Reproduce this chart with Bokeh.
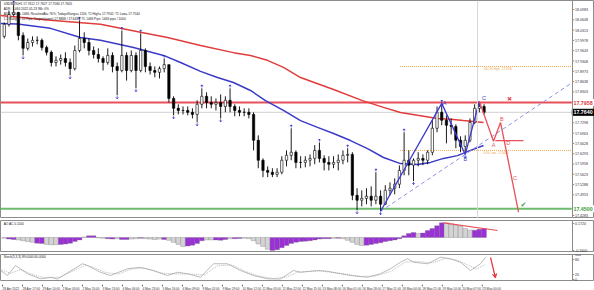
from bokeh.plotting import figure
from bokeh.layouts import column
from bokeh.models import Range1d, Span, Arrow, VeeHead
from bokeh.core.properties import value
from bokeh.embed import file_html
from bokeh.resources import INLINE

FONT = "Liberation Sans"

# ---------------- data (USDMXN, each candle = 4 H1 bars) ----------------
open_first = 18.011
highs = [18.056, 18.095, 18.115, 18.089, 18.024, 18.004, 18.011, 18.011, 18.004, 17.981,
         17.965, 17.946, 17.952, 17.959, 17.939, 17.981, 18.063, 18.024, 18.004, 17.978,
         17.972, 17.946, 17.972, 17.959, 17.926, 18.030, 17.959, 17.965, 17.959, 18.021,
         17.972, 17.926, 17.913, 17.913, 17.939, 17.919, 17.816, 17.790, 17.783, 17.783,
         17.777, 17.803, 17.842, 17.829, 17.816, 17.809, 17.822, 17.816, 17.842, 17.790,
         17.783, 17.777, 17.777, 17.764, 17.689, 17.614, 17.588, 17.582, 17.582, 17.621,
         17.640, 17.712, 17.640, 17.621, 17.621, 17.627, 17.657, 17.666, 17.624, 17.621,
         17.621, 17.627, 17.640, 17.647, 17.634, 17.517, 17.510, 17.517, 17.523, 17.569,
         17.510, 17.527, 17.536, 17.549, 17.591, 17.699, 17.640, 17.614, 17.634, 17.627,
         17.640, 17.738, 17.783, 17.793, 17.754, 17.744, 17.725, 17.686, 17.689, 17.744,
         17.790, 17.800, 17.790]
lows = [18.004, 18.043, 18.076, 17.998, 17.949, 17.965, 17.978, 17.985, 17.965, 17.949,
        17.913, 17.913, 17.919, 17.913, 17.884, 17.900, 17.959, 17.972, 17.949, 17.939,
        17.926, 17.900, 17.919, 17.894, 17.819, 17.894, 17.867, 17.894, 17.842, 17.894,
        17.894, 17.887, 17.878, 17.874, 17.894, 17.796, 17.754, 17.757, 17.757, 17.754,
        17.744, 17.731, 17.777, 17.777, 17.777, 17.770, 17.744, 17.764, 17.764, 17.751,
        17.751, 17.751, 17.744, 17.640, 17.582, 17.553, 17.553, 17.553, 17.553, 17.562,
        17.588, 17.608, 17.582, 17.582, 17.585, 17.588, 17.595, 17.601, 17.575, 17.575,
        17.582, 17.575, 17.595, 17.601, 17.478, 17.445, 17.458, 17.465, 17.458, 17.465,
        17.442, 17.462, 17.494, 17.497, 17.517, 17.559, 17.559, 17.540, 17.588, 17.592,
        17.595, 17.624, 17.699, 17.722, 17.663, 17.692, 17.647, 17.634, 17.627, 17.666,
        17.725, 17.764, 17.757]
closes = [18.050, 18.082, 18.089, 18.014, 17.972, 17.991, 17.998, 17.998, 17.975, 17.959,
          17.926, 17.933, 17.939, 17.926, 17.906, 17.965, 18.004, 17.991, 17.965, 17.952,
          17.939, 17.926, 17.949, 17.913, 17.900, 17.949, 17.900, 17.949, 17.900, 17.965,
          17.913, 17.900, 17.894, 17.906, 17.919, 17.809, 17.777, 17.770, 17.770, 17.764,
          17.757, 17.790, 17.816, 17.796, 17.790, 17.796, 17.783, 17.803, 17.783, 17.770,
          17.764, 17.764, 17.757, 17.673, 17.608, 17.575, 17.569, 17.562, 17.569, 17.608,
          17.624, 17.634, 17.601, 17.601, 17.608, 17.614, 17.640, 17.614, 17.601, 17.595,
          17.601, 17.608, 17.624, 17.627, 17.494, 17.478, 17.484, 17.491, 17.478, 17.491,
          17.465, 17.510, 17.517, 17.530, 17.575, 17.608, 17.592, 17.608, 17.614, 17.608,
          17.634, 17.712, 17.764, 17.738, 17.722, 17.718, 17.673, 17.653, 17.673, 17.731,
          17.777, 17.783, 17.764]

# moving averages (x in H1-bar index)
ma_fast_x = [-1.7, 12.8, 40.8, 66.3, 83.3, 111.4, 136.9, 151.4, 168.4, 182.8, 196.4, 210.9,
             223.6, 238.9, 253.4, 267.9, 281.5, 295.9, 310.4, 324.0, 338.4, 352.9, 363.9,
             375.0, 386.9, 398.0, 409.0]
ma_fast = [18.053, 18.051, 18.037, 18.007, 17.998, 17.975, 17.949, 17.926, 17.897, 17.877,
           17.861, 17.835, 17.802, 17.770, 17.737, 17.715, 17.695, 17.672, 17.646, 17.617,
           17.597, 17.594, 17.601, 17.614, 17.623, 17.640, 17.656]
ma_slow_x = [-1.7, 40.8, 83.3, 117.3, 140.3, 168.4, 196.4, 210.9, 225.3, 238.9, 253.4, 281.5,
             306.1, 324.0, 338.4, 352.9, 369.9, 381.0, 392.0, 409.0]
ma_slow = [18.079, 18.063, 18.050, 18.024, 18.007, 17.981, 17.958, 17.949, 17.933, 17.910,
           17.877, 17.838, 17.802, 17.780, 17.763, 17.754, 17.744, 17.741, 17.737, 17.731]

resistance = 17.7958
support = 17.4500
fibo_high = 17.913
fibo_low = 17.640
marker_bar = 403.9

wave_bars = [80, 93, 98, 101]
proj_x = [417.5, 423.5, 438.8]
proj_y = [17.670, 17.731, 17.439]
proj_level = 17.672

ao = [-0.010, -0.020, -0.025, -0.030, -0.040, -0.050, -0.060, -0.070, -0.075, -0.085,
      -0.090, -0.090, -0.085, -0.080, -0.070, -0.050, -0.030, 0.005, 0.020, 0.020,
      -0.005, -0.010, -0.015, -0.020, -0.015, -0.025, -0.025, -0.020, -0.015, -0.010,
      -0.015, -0.020, -0.025, -0.020, -0.025, -0.035, -0.060, -0.085, -0.110, -0.105,
      -0.095, -0.075, -0.040, -0.030, -0.030, -0.030, -0.035, -0.025, -0.015, -0.015,
      -0.012, -0.010, -0.015, -0.040, -0.080, -0.110, -0.145, -0.160, -0.150, -0.125,
      -0.100, -0.075, -0.060, -0.050, -0.045, -0.040, -0.030, -0.020, -0.015, -0.015,
      -0.012, -0.010, -0.015, -0.035, -0.060, -0.085, -0.100, -0.095, -0.085, -0.075,
      -0.065, -0.050, -0.040, -0.030, -0.015, 0.020, 0.050, 0.060, 0.050, 0.055,
      0.085, 0.110, 0.145, 0.180, 0.180, 0.170, 0.155, 0.135, 0.110, 0.090,
      0.090, 0.100, 0.110]
ao_flags = ("gppggggppg" "ggpppppgpp" "ggppgppggp" "ggggpggggp" "pppggpppgp"
            "pggggggppp" "pppppppppp" "gpgggggppp" "ppppppppgp" "ppppgggggg" "ppp")
ao_div_x = [375.0, 421.0]
ao_div_y = [0.180, 0.086]

stk_x = [-1.7, 4.3, 11.1, 21.3, 32.3, 40.8, 46.8, 68.0, 72.3, 83.3,
         91.8, 106.3, 117.3, 128.4, 140.3, 148.8, 157.3, 168.4, 179.4, 191.3,
         202.4, 213.4, 225.3, 236.4, 247.4, 253.4, 267.9, 276.4, 287.4, 295.9,
         310.4, 321.4, 329.9, 338.4, 344.4, 349.5, 361.4, 372.4, 381.0, 389.5,
         398.0, 406.5, 410.7]
stk = [36, 16, 56, 23, 3, 9, 2, 63, 56, 29,
       16, 43, 49, 36, 16, 29, 23, 9, 63, 63,
       36, 16, 3, 2, 36, 29, 36, 33, 23, 16,
       9, 23, 43, 69, 83, 69, 63, 89, 83, 69,
       36, 63, 89]
std_x = [-1.7, 6.8, 15.3, 25.5, 36.6, 49.3, 70.6, 76.5, 87.6, 98.6, 110.5, 121.6,
         134.4, 147.1, 159.9, 171.8, 182.8, 195.6, 206.6, 217.7, 229.6, 241.5, 251.7, 270.4,
         291.7, 304.4, 317.2, 330.0, 342.7, 353.7, 365.6, 376.7, 386.1, 394.6, 403.1, 410.7]
std = [40, 25, 40, 20, 6, 10, 58, 50, 28, 22, 43, 44,
       26, 22, 22, 18, 55, 58, 32, 14, 4, 10, 30, 34,
       22, 12, 14, 32, 70, 72, 66, 84, 78, 60, 42, 60]

time_labels = ["28 Apr 2022", "28 Apr 17:00", "29 Apr 10:00", "2 May 03:00", "2 May 20:00",
               "3 May 13:00", "4 May 06:00", "4 May 23:00", "5 May 16:00", "6 May 09:00",
               "9 May 02:00", "9 May 19:00", "10 May 12:00", "11 May 05:00", "11 May 22:00",
               "12 May 15:00", "13 May 08:00", "16 May 01:00", "16 May 18:00", "17 May 11:00",
               "18 May 04:00", "18 May 21:00", "19 May 14:00", "20 May 07:00", "23 May 00:00"]
label_step = 17

price_ticks = [18.0983, 18.0648, 18.0313, 17.9978, 17.9643, 17.9308, 17.8973, 17.8638,
               17.8303, 17.7298, 17.6963, 17.6628, 17.6293, 17.5958, 17.5623, 17.5288,
               17.4953, 17.4283]
ao_ticks = [0.172, -0.160]
stoch_ticks = [100, 80, 20, 0]

info_lines = ["USDMXN,H1  17.7612 17.7627 17.7580 17.7605",
              "ADR: 1,466  2022.05.23  Wk: 0%",
              "ADR Value= 1466; ReachedAt= 76%; TodaysRange= 1116; T1 High= 17.7942; T1 Low= 17.7544",
              "1.1 Ranges: 11 Pips; Targets(zone) 17.8868 / 17.6488; TL 1466 Pips; 1466 pips / 1000"]

# ---------------- layout helpers ----------------
W = 594
XR = Range1d(-1.7, 503.4)   # H1-bar index across the full window width
AX = 484.7                  # bar index where the price scale begins
GRID = "#8c8c8c"


def panel(h, yr, top):
    p = figure(width=W, height=h, x_range=XR, y_range=yr, output_backend="svg",
               toolbar_location=None, x_axis_location=None, y_axis_location=None,
               min_border_left=0, min_border_right=0, min_border_top=top, min_border_bottom=0)
    p.xgrid.visible = False
    p.ygrid.visible = False
    p.outline_line_color = GRID
    p.background_fill_color = "white"
    p.border_fill_color = "white"
    p.add_layout(Span(location=AX, dimension="height", line_color=GRID, line_width=1))
    return p


def scale(p, ticks, labels, size="3.6px"):
    p.segment(x0=[AX] * len(ticks), y0=ticks, x1=[AX + 1.5] * len(ticks), y1=ticks,
              line_color=GRID, line_width=1)
    p.text(x=[AX + 2.2] * len(ticks), y=ticks, text=labels, text_font=value(FONT),
           text_font_size=size, text_color="#333333", text_baseline="middle")


def tag(p, y, txt, fg, bg, border=None):
    p.rect(x=[AX + 9.2], y=[y], width=22, height=6, width_units="screen", height_units="screen",
           fill_color=bg, line_color=border if border else bg)
    p.text(x=[AX + 0.8], y=[y], text=[txt], text_font=value(FONT), text_font_size="5.3px",
           text_font_style="bold", text_color=fg, text_baseline="middle")

# ---------------- main price panel ----------------
n = len(closes)
xs = [4 * i + 1.5 for i in range(n)]
opens = [open_first] + closes[:-1]
tops = [max(o, c) for o, c in zip(opens, closes)]
bots = [min(o, c) for o, c in zip(opens, closes)]
fills = ["white" if c >= o else "black" for o, c in zip(opens, closes)]

main = panel(218, Range1d(17.4185, 18.1276), 0)
scale(main, price_ticks, ["%.4f" % t for t in price_ticks])

main.segment(x0=-1.7, y0=closes[-1], x1=AX, y1=closes[-1], line_color="#cfcfcf", line_width=1)
main.add_layout(Span(location=marker_bar, dimension="height", line_color="#d8d8d8", line_width=1))
main.segment(x0=338, y0=fibo_high, x1=AX, y1=fibo_high, line_color="#f4a84a",
             line_width=1, line_dash="1 1")
main.segment(x0=338, y0=fibo_low, x1=AX, y1=fibo_low, line_color="#f4a84a",
             line_width=1, line_dash="1 1")
main.text(x=[409, 409], y=[fibo_high - 0.006, fibo_low - 0.006],
          text=["100.0% High - 17.9130", "0.0% Low - 17.6400"],
          text_font=value(FONT), text_font_size="2.8px", text_color="#f0a040",
          text_baseline="middle")
main.segment(x0=-1.7, y0=resistance, x1=AX + 1, y1=resistance, line_color="#e8505a", line_width=2)
main.segment(x0=-1.7, y0=support, x1=AX + 1, y1=support, line_color="#6dbb6d", line_width=2)

main.line(ma_slow_x, ma_slow, line_color="#e03c3c", line_width=1.5)
main.line(ma_fast_x, ma_fast, line_color="#3a3ac8", line_width=1.5)

# trend line through the wave lows
x0t, y0t = xs[wave_bars[0]], lows[wave_bars[0]]
x1t, y1t = xs[wave_bars[2]], lows[wave_bars[2]]
slope = (y1t - y0t) / (x1t - x0t)
main.line([x0t, AX], [y0t, y0t + slope * (AX - x0t)], line_color="#8f8fe6",
          line_width=1, line_dash="4 3")

main.segment(x0=xs, y0=highs, x1=xs, y1=lows, line_color="black", line_width=0.9)
main.vbar(x=xs, width=2.0, top=tops, bottom=bots, fill_color=fills, line_color="black",
          line_width=0.6)

# Bill Williams fractals, drawn as small arrows
up_f = [i for i in range(2, n - 2) if highs[i] > max(highs[i - 2], highs[i - 1], highs[i + 1], highs[i + 2])]
dn_f = [i for i in range(2, n - 2) if lows[i] < min(lows[i - 2], lows[i - 1], lows[i + 1], lows[i + 2])]
fx, fy = [], []
for i in up_f:
    b = highs[i] + 0.003
    fx += [[xs[i] - 1.0, xs[i], xs[i] + 1.0], [xs[i], xs[i]]]
    fy += [[b + 0.004, b + 0.008, b + 0.004], [b, b + 0.008]]
for i in dn_f:
    b = lows[i] - 0.003
    fx += [[xs[i] - 1.0, xs[i], xs[i] + 1.0], [xs[i], xs[i]]]
    fy += [[b - 0.004, b - 0.008, b - 0.004], [b, b - 0.008]]
main.multi_line(fx, fy, line_color="#2828d0", line_width=0.8)

# blue wave
wx = [xs[b] for b in wave_bars]
wy = [lows[wave_bars[0]], highs[wave_bars[1]], lows[wave_bars[2]], highs[wave_bars[3]]]
main.line(wx, wy, line_color="#3a3ad0", line_width=1.3)
main.text(x=[wx[1] + 2.5, wx[2], wx[3] + 4], y=[wy[1] + 0.001, wy[2] - 0.014, wy[3] + 0.009],
          text=["A", "B", "C"], text_font=value(FONT), text_font_size="5.5px",
          text_color="#3a3ad0", text_align="center", text_baseline="middle")

# red projection
px_ = [wx[3]] + proj_x
py_ = [wy[3]] + proj_y
main.line(px_, py_, line_color="#e8505a", line_width=1.3)
main.segment(x0=proj_x[0] + 1.5, y0=proj_level, x1=443, y1=proj_level, line_color="#e8505a",
             line_width=1.3)
main.text(x=[proj_x[0], proj_x[1] + 1, proj_x[2] - 3, 430, 431],
          y=[proj_y[0] - 0.012, proj_y[1] + 0.012, 17.55, proj_level - 0.009, 17.806],
          text=["A", "B", "C", "D", "\u2716"], text_font=value(FONT), text_font_size="5.5px",
          text_color="#e8505a", text_align="center", text_baseline="middle")
main.text(x=[443], y=[support + 0.011], text=["\u2714"], text_font=value("DejaVu Sans"),
          text_font_size="7px", text_color="#40a040", text_align="center", text_baseline="middle")

# info text
main.text(x=[1] * 4, y=[18.1165, 18.1005, 18.0845, 18.0685], text=info_lines,
          text_font=value(FONT), text_font_size="3.2px", text_color="#202020",
          text_baseline="middle")

tag(main, resistance, "17.7958", "#e03040", "white")
tag(main, support, "17.4500", "#3c9a3c", "white")
tag(main, closes[-1], "%.4f" % closes[-1], "white", "black")

# ---------------- AO panel ----------------
aop = panel(34, Range1d(-0.185, 0.209), 2)
scale(aop, ao_ticks, ["%.4f" % t for t in ao_ticks])
ao_colors = ["#9b30d9" if f == "p" else "#d4d4d4" for f in ao_flags]
aop.vbar(x=xs, width=4, top=ao, bottom=0, fill_color=ao_colors, line_color="#6a6a6a",
         line_width=0.3)
aop.line(ao_div_x, ao_div_y, line_color="#e8505a", line_width=1.2)
aop.text(x=[1], y=[0.165], text=["AO AC  0.1100"], text_font=value(FONT),
         text_font_size="3.2px", text_color="#202020", text_baseline="middle")

# ---------------- Stochastic panel ----------------
stp = panel(29, Range1d(-8, 100), 2)
scale(stp, stoch_ticks, [str(t) for t in stoch_ticks])
stp.line(stk_x, stk, line_color="#a8a8a8", line_width=0.8)
stp.line(std_x, std, line_color="#a8a8a8", line_width=0.8, line_dash="1 1")
stp.add_layout(Arrow(end=VeeHead(size=4, line_color="#e8303a", fill_color="#e8303a"),
                     x_start=415, y_start=88, x_end=419.2, y_end=6,
                     line_color="#e8303a", line_width=1.2))
stp.text(x=[1], y=[90], text=["Stoch(5,3,3)  89.0000  60.0000"], text_font=value(FONT),
         text_font_size="3.2px", text_color="#202020", text_baseline="middle")

# ---------------- time axis ----------------
tax = figure(width=W, height=9, x_range=XR, y_range=Range1d(0, 1), output_backend="svg",
             toolbar_location=None, x_axis_location=None, y_axis_location=None,
             min_border_left=0, min_border_right=0, min_border_top=0, min_border_bottom=0)
tax.xgrid.visible = False
tax.ygrid.visible = False
tax.outline_line_color = None
tpos = [label_step * k for k in range(len(time_labels))]
tax.segment(x0=tpos, y0=[1] * len(tpos), x1=tpos, y1=[0.8] * len(tpos), line_color="#555555")
tax.text(x=tpos, y=[0.5] * len(tpos), text=time_labels, text_font=value(FONT),
         text_font_size="3.1px", text_color="#333333", text_baseline="middle")

layout = column(main, aop, stp, tax, spacing=0)
open("out.html", "w").write(file_html(layout, INLINE))
